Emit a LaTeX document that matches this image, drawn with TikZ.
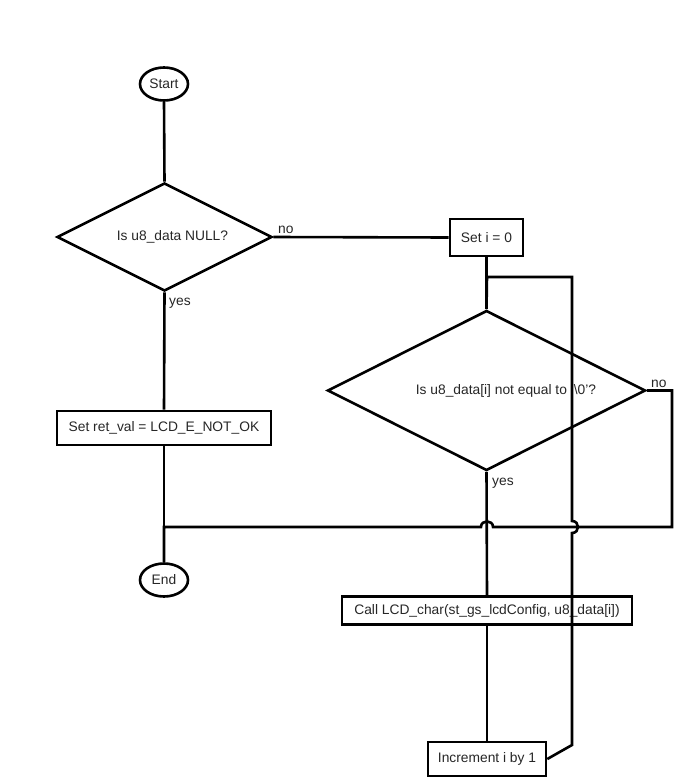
\documentclass[tikz,border=0pt]{standalone}
\usepackage{fontspec}
\setmainfont{Liberation Sans}
\usetikzlibrary{shapes.geometric}
\begin{document}
\begin{tikzpicture}[x=1pt,y=-1pt,
  every node/.style={font=\fontsize{13.8}{16}\selectfont, text=black!85},
  flow/.style={line width=2.6pt, draw=black},
  term/.style={flow, ellipse, minimum width=48pt, minimum height=33pt, inner sep=0pt},
  proc/.style={flow, rectangle, inner sep=0pt},
  decide/.style={flow, diamond, inner sep=0pt},
  tag/.style={inner sep=0pt, anchor=base west},
  link/.style={line width=2.6pt, line join=miter}
]
\useasboundingbox (0,0) rectangle (674,781);

% terminals
\node[term] (start) at (164,84) {Start};
\node[term] (stop)  at (164,580) {End};

% decisions (shape only, text laid over the shape)
\node[decide, minimum width=215pt, minimum height=108pt] (d1) at (164.5,237) {};
\node (q1) at ([xshift=8pt]d1.center) {Is u8\_data NULL?};
\node[decide, minimum width=318pt, minimum height=160pt] (d2) at (486.5,390.5) {};
\node (q2) at ([xshift=19.5pt]d2.center) {Is u8\_data[i] not equal to '\textbackslash0'?};

% process boxes
\node[proc, minimum width=214pt, minimum height=34pt] (rv)  at (164,428) {Set ret\_val = LCD\_E\_NOT\_OK};
\node[proc, minimum width=73pt,  minimum height=37pt] (s0)  at (486.5,237.5) {Set i = 0};
\node[proc, minimum width=290pt, minimum height=28pt] (cl)  at (487,610.5) {Call LCD\_char(st\_gs\_lcdConfig, u8\_data[i])};
\node[proc, minimum width=118pt, minimum height=34pt] (inc) at (487,759) {Increment i by 1};

% branch labels
\node[tag] (no1)  at (278,233) {no};
\node[tag] (yes1) at (169,305.5) {yes};
\node[tag] (no2)  at (651,387) {no};
\node[tag] (yes2) at (492,485) {yes};

% route corners
\coordinate (bendA) at (672,390.5);
\coordinate (bendB) at (672,527);
\coordinate (joinE) at (164,527);
\coordinate (upR)   at (572,745);
\coordinate (topR)  at (572,277);
\coordinate (topL)  at (487,277);

% straight connectors
\draw[link] (start.south) -- (d1.north);
\draw[link] (d1.east) -- (s0.west);
\draw[link] (d1.south) -- (rv.north);
\draw[link] (rv.south) -- (stop.north);
\draw[link] (s0.south) -- (d2.north);
\draw[link] (d2.south) -- (cl.north);
\draw[link] (cl.south) -- (inc.north);

% "no" branch of the loop test, hopping over the yes line
\draw[link] (d2.east) -- (bendA) -- (bendB) -- (493,527)
  .. controls (493,519.5) and (481,519.5) .. (481,527) -- (joinE) -- (stop.north);

% loop back from the increment to the test, hopping over the exit line
\draw[link] (inc.east) -- (upR) -- (572,533)
  .. controls (580,533) and (580,521) .. (572,521) -- (topR) -- (topL) -- (d2.north);
\end{tikzpicture}
\end{document}
